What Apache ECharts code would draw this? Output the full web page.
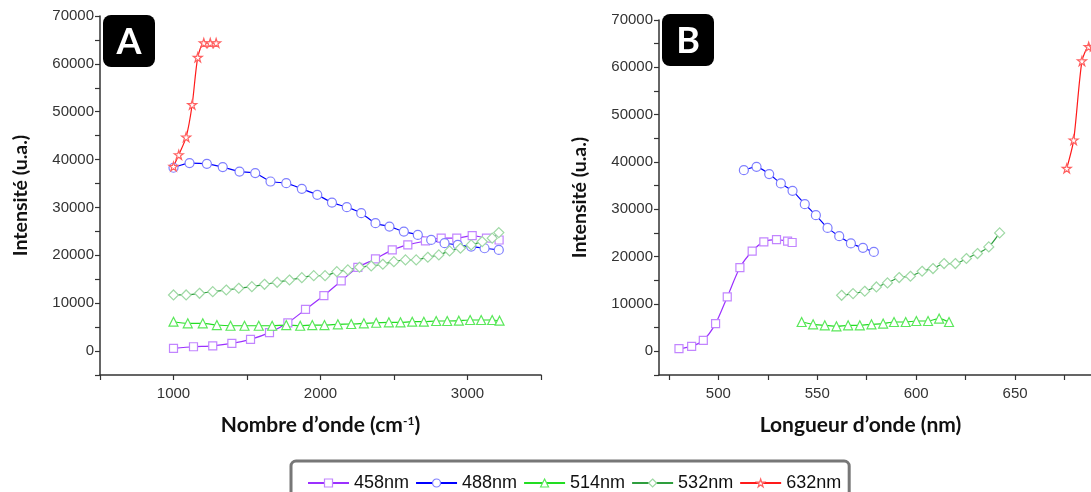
<!DOCTYPE html>
<html><head><meta charset="utf-8">
<script src="https://cdn.jsdelivr.net/npm/echarts@6/dist/echarts.min.js"></script>
<style>html,body{margin:0;padding:0;background:#fff}#c{width:1091px;height:492px}</style>
</head><body><div id="c"></div><script>
const seriesNames = ['458nm','488nm','514nm','532nm','632nm'];
const yTicks = [0,10000,20000,30000,40000,50000,60000,70000];
const xTicksA = [1000,2000,3000];
const xTicksB = [500,550,600,650];

// Panel A : wavenumber (cm-1)
const a458x = [1000,1136,1267,1397,1524,1653,1778,1898,2023,2141,2254,2374,2488,2594,2714,2821,2927,3032,3129,3215];
const a458y = [560,900,1100,1600,2450,3850,5900,8700,11600,14650,17500,19250,21150,22200,23000,23600,23600,24100,23600,23200];
const a488x = [1000,1109,1227,1335,1449,1556,1660,1767,1873,1978,2078,2179,2277,2374,2469,2567,2662,2753,2844,2934,3025,3116,3213];
const a488y = [38300,39270,39120,38430,37500,37180,35420,35080,33890,32640,31020,30060,28810,26720,26000,24960,24270,23220,22530,22180,21820,21480,21130];
const a514x = [1000,1097,1199,1295,1388,1483,1580,1671,1767,1862,1944,2027,2118,2209,2295,2379,2465,2544,2624,2703,2787,2862,2941,3018,3093,3168,3218];
const a514y = [6130,5790,5790,5440,5290,5290,5290,5290,5440,5290,5440,5440,5590,5650,5790,5920,6000,6000,6130,6130,6280,6280,6350,6490,6490,6490,6350];
const a532x = [1000,1086,1177,1267,1359,1444,1533,1619,1705,1789,1873,1954,2031,2111,2186,2265,2345,2424,2499,2578,2651,2730,2805,2878,2952,3025,3100,3168,3213];
const a532y = [11720,11720,12070,12410,12760,13120,13450,13950,14370,14850,15330,15750,15750,16590,16950,17510,17780,18140,18680,19040,19040,19600,20080,20920,21480,22180,22870,23580,24750];
const a632x = [1000,1036,1086,1127,1165,1206,1250,1290];
const a632y = [38560,41000,44700,51460,61360,64370,64370,64370];

// Panel B : wavelength (nm)
const b458x = [480.1,486.5,492.4,498.6,504.5,510.9,517.1,523.0,529.4,535.0,537.3];
const b458y = [580,1060,2330,5860,11490,17700,21150,23120,23620,23270,22990];
const b488x = [512.9,519.3,525.7,531.6,537.5,543.7,549.3,555.2,561.1,567.0,573.1,578.6];
const b488y = [38280,38980,37440,35470,33900,31090,28760,26080,24320,22800,21860,21000];
const b514x = [542.1,547.9,553.8,559.7,565.6,571.5,577.4,583.3,588.8,594.7,600.1,606.0,611.6,616.6];
const b514y = [6200,5710,5500,5290,5500,5500,5710,5860,6200,6200,6410,6410,6920,6200];
const b532x = [562.3,568.1,574.0,579.9,585.5,591.4,597.1,603.0,608.5,614.1,619.8,625.4,631.0,636.7,642.2];
const b532y = [11840,12200,12690,13600,14450,15590,15860,16920,17490,18550,18550,19610,20660,22060,25020];
const b632x = [676.1,679.6,683.8,687.2,689.5,692.0];
const b632y = [38640,44630,61330,64360,64400,64500];

const STAR = 'path://M50,2 L61.2,36.2 L97.6,36.2 L68.2,57.6 L79.4,92 L50,70.8 L20.6,92 L31.8,57.6 L2.4,36.2 L38.8,36.2 Z';
const styles = {
  '458nm': {line:'#9b30ff', mark:'#c285ff', symbol:'rect', size:8},
  '488nm': {line:'#0000ff', mark:'#7f7fff', symbol:'circle', size:9},
  '514nm': {line:'#22dd22', mark:'#5ae85a', symbol:'triangle', size:9},
  '532nm': {line:'#2e9e3e', mark:'#9fd9a5', symbol:'diamond', size:10},
  '632nm': {line:'#ff1a1a', mark:'#ff6060', symbol:STAR, size:9}
};
const zip = (xs, ys) => xs.map((x,i)=>[x, ys[i]]);
function mk(name, xs, ys, idx){
  const s = styles[name];
  return {
    name, type:'line', xAxisIndex:idx, yAxisIndex:idx,
    data: zip(xs, ys), symbol:s.symbol, symbolSize:s.size, showAllSymbol:true,
    smooth:0.25,
    lineStyle:{color:s.line, width:1.2},
    itemStyle:{color:'#fff', borderColor:s.mark, borderWidth:1.2},
    emphasis:{disabled:true}, animation:false, z: 2
  };
}
const series = [
  mk('458nm',a458x,a458y,0), mk('488nm',a488x,a488y,0), mk('514nm',a514x,a514y,0), mk('532nm',a532x,a532y,0), mk('632nm',a632x,a632y,0),
  mk('458nm',b458x,b458y,1), mk('488nm',b488x,b488y,1), mk('514nm',b514x,b514y,1), mk('532nm',b532x,b532y,1), mk('632nm',b632x,b632y,1)
];

const axisCol = '#333';
const titleFontY = {fontFamily:'Lato', fontWeight:'bold', fontSize:19.5, color:'#111'};
const titleFontX = {fontFamily:'Lato', fontWeight:'bold', fontSize:21, color:'#111'};
const yAxisCommon = {
  type:'value', min:-5000, max:70000, interval:5000,
  axisLine:{show:true, lineStyle:{color:axisCol, width:1.5}},
  axisTick:{show:true, length:5, lineStyle:{color:axisCol, width:1.2}},
  splitLine:{show:false},
  axisLabel:{color:'#333', fontFamily:'Liberation Sans', fontSize:15, margin:6,
    formatter: v => yTicks.includes(v) ? String(v) : ''},
  name:'Intensité (u.a.)', nameLocation:'middle', nameGap:69, nameTextStyle:titleFontY
};

const legendData = seriesNames.map(n => ({
  name:n,
  itemStyle:{color:'#fff', borderColor:styles[n].mark, borderWidth:1.2}
}));

const chart = echarts.init(document.getElementById('c'), null, {renderer:'canvas'});
chart.setOption({
  animation:false,
  backgroundColor:'#fff',
  grid:[
    {left:100, top:16, width:441, height:359, outerBoundsMode:'none', containLabel:false},
    {left:659, top:20, width:455, height:355, outerBoundsMode:'none', containLabel:false}
  ],
  xAxis:[
    {type:'value', gridIndex:0, min:500, max:3500, interval:500,
     axisLine:{onZero:false, lineStyle:{color:axisCol, width:1.5}},
     axisTick:{length:5, lineStyle:{color:axisCol, width:1.2}},
     splitLine:{show:false},
     axisLabel:{color:'#333', fontFamily:'Liberation Sans', fontSize:15, margin:11,
       formatter: v => xTicksA.includes(v) ? String(v) : ''},
     name:'Nombre d’onde (cm{sup|-1})', nameLocation:'middle', nameGap:40,
     nameTextStyle:Object.assign({}, titleFontX, {rich:{sup:{fontFamily:'Lato', fontWeight:'bold', fontSize:12, color:'#111', verticalAlign:'top', padding:[0,0,9,0]}}})},
    {type:'value', gridIndex:1, min:470, max:700,
     axisLine:{onZero:false, lineStyle:{color:axisCol, width:1.5}},
     axisTick:{length:5, customValues:[475,500,525,550,575,600,625,650,675,700], lineStyle:{color:axisCol, width:1.2}},
     splitLine:{show:false},
     axisLabel:{color:'#333', fontFamily:'Liberation Sans', fontSize:15, margin:11, customValues:xTicksB},
     name:'Longueur d’onde (nm)', nameLocation:'middle', nameGap:40,
     nameTextStyle:Object.assign({}, titleFontX, {padding:[0,52,0,0]})}
  ],
  yAxis:[
    Object.assign({gridIndex:0}, yAxisCommon),
    Object.assign({gridIndex:1}, yAxisCommon)
  ],
  legend:{
    data:legendData, left:291, top:461, orient:'horizontal',
    itemWidth:41, itemHeight:10, itemGap:6,
    padding:[13,8,10,16],
    borderColor:'#777', borderWidth:3, borderRadius:5,
    textStyle:{fontFamily:'Liberation Sans', fontSize:18, color:'#111'}
  },
  graphic:[
    {type:'rect', left:103, top:15, shape:{width:52, height:52, r:8}, style:{fill:'#000'}, z:10},
    {type:'text', style:{text:'A', x:129, y:42, align:'center', verticalAlign:'middle', fill:'#fff', font:'bold 36px Lato'}, z:11},
    {type:'rect', left:662, top:14, shape:{width:52, height:52, r:8}, style:{fill:'#000'}, z:10},
    {type:'text', style:{text:'B', x:688, y:41, align:'center', verticalAlign:'middle', fill:'#fff', font:'bold 36px Lato'}, z:11}
  ],
  series
});
</script></body></html>
